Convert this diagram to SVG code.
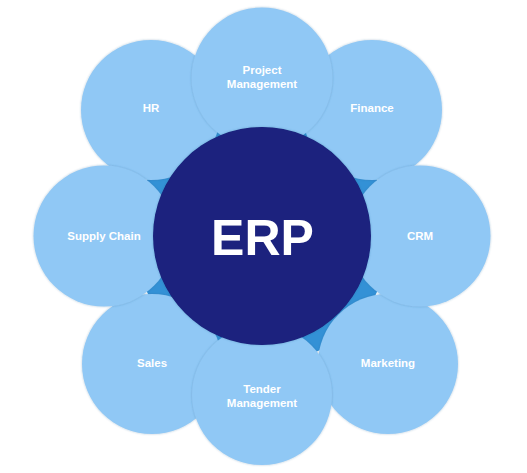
<svg xmlns="http://www.w3.org/2000/svg" width="527" height="473" viewBox="0 0 527 473">
  <defs>
    <filter id="sh" x="-20%" y="-20%" width="140%" height="140%">
      <feDropShadow dx="0" dy="0" stdDeviation="1.2" flood-color="#2a5f8f" flood-opacity="0.35"/>
    </filter>
  </defs>
  <style>
    .outer { fill: #90C8F5; filter: url(#sh); }
    .lbl { font-family: "Liberation Sans", Arial, sans-serif; font-weight: bold; font-size: 11.5px; fill: #ffffff; text-anchor: middle; }
    .core { fill: #1A237E; filter: url(#sh); }
    .big { font-family: "Liberation Sans", Arial, sans-serif; font-weight: bold; font-size: 50px; fill: #ffffff; text-anchor: middle; }
    .conn { fill: #3391D6; }
  </style>
  <rect width="527" height="473" fill="#ffffff"/>
  <g id="connectors">
    <circle class="conn" cx="262" cy="236" r="128"/>
  </g>
  <g id="hr">
    <circle class="outer" cx="151" cy="110" r="70"/>
    <text class="lbl" x="151" y="112">HR</text>
  </g>
  <g id="finance">
    <circle class="outer" cx="372" cy="110" r="70"/>
    <text class="lbl" x="372" y="112">Finance</text>
  </g>
  <g id="sales">
    <circle class="outer" cx="152" cy="364" r="70"/>
    <text class="lbl" x="152" y="367">Sales</text>
  </g>
  <g id="marketing">
    <circle class="outer" cx="388" cy="364" r="70"/>
    <text class="lbl" x="388" y="367">Marketing</text>
  </g>
  <g id="supply-chain">
    <circle class="outer" cx="104" cy="236" r="70.5"/>
    <text class="lbl" x="104" y="240">Supply Chain</text>
  </g>
  <g id="crm">
    <circle class="outer" cx="420" cy="236" r="70.5"/>
    <text class="lbl" x="420" y="240">CRM</text>
  </g>
  <g id="project-management">
    <circle class="outer" cx="262" cy="78" r="70.5"/>
    <text class="lbl" x="262" y="74">Project</text>
    <text class="lbl" x="262" y="88">Management</text>
  </g>
  <g id="tender-management">
    <circle class="outer" cx="262" cy="395" r="70"/>
    <text class="lbl" x="262" y="393">Tender</text>
    <text class="lbl" x="262" y="407">Management</text>
  </g>
  <g id="erp">
    <circle class="core" cx="262" cy="236" r="109"/>
    <text class="big" x="262.5" y="255">ERP</text>
  </g>
</svg>
